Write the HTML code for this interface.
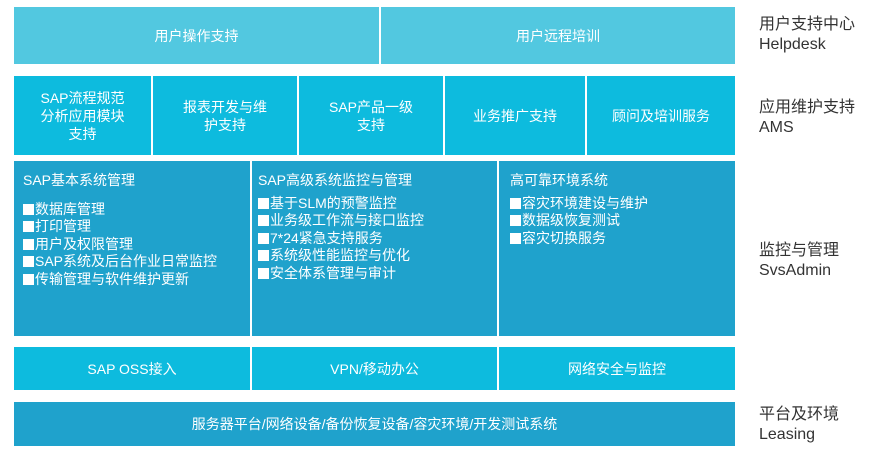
<!DOCTYPE html>
<html><head><meta charset="utf-8"><style>
body{margin:0;width:893px;height:467px;background:#fff;position:relative;overflow:hidden;font-family:"Liberation Sans","Noto Sans CJK SC",sans-serif}
.b{position:absolute;color:#fff;display:flex;align-items:center;justify-content:center;text-align:center;font-size:14px;line-height:18px}
.l{background:#52c8e0}.m{background:#0dbbde}.d{background:#1fa2cc}
.t{position:absolute;left:23px;top:14px;color:#fff;font-size:14px;line-height:17.6px;text-align:left;white-space:nowrap}
.t p{margin:0 0 5px 0}
.t i{display:inline-block;width:11px;height:11px;background:#fff;margin-right:1px;vertical-align:-1px}
.lab{position:absolute;left:759px;color:#333;font-size:16px;line-height:20px}
</style></head><body>
<div class="b l" style="left:14px;top:7px;width:365px;height:57px">用户操作支持</div>
<div class="b l" style="left:381px;top:7px;width:354px;height:57px">用户远程培训</div>

<div class="b m" style="left:14px;top:76px;width:137px;height:79px">SAP流程规范<br>分析应用模块<br>支持</div>
<div class="b m" style="left:153px;top:76px;width:144px;height:79px">报表开发与维<br>护支持</div>
<div class="b m" style="left:299px;top:76px;width:144px;height:79px">SAP产品一级<br>支持</div>
<div class="b m" style="left:445px;top:76px;width:140px;height:79px">业务推广支持</div>
<div class="b m" style="left:587px;top:76px;width:148px;height:79px">顾问及培训服务</div>

<div class="b d" style="left:14px;top:161px;width:236px;height:175px"><div class="t" style="left:9px;top:11px"><p style="margin-bottom:11px">SAP基本系统管理</p><i></i>数据库管理<br><i></i>打印管理<br><i></i>用户及权限管理<br><i></i>SAP系统及后台作业日常监控<br><i></i>传输管理与软件维护更新</div></div>
<div class="b d" style="left:252px;top:161px;width:245px;height:175px"><div class="t" style="left:6px;top:11px"><p style="margin-bottom:5px">SAP高级系统监控与管理</p><i></i>基于SLM的预警监控<br><i></i>业务级工作流与接口监控<br><i></i>7*24紧急支持服务<br><i></i>系统级性能监控与优化<br><i></i>安全体系管理与审计</div></div>
<div class="b d" style="left:499px;top:161px;width:236px;height:175px"><div class="t" style="left:11px;top:11px"><p style="margin-bottom:5px">高可靠环境系统</p><i></i>容灾环境建设与维护<br><i></i>数据级恢复测试<br><i></i>容灾切换服务</div></div>

<div class="b m" style="left:14px;top:347px;width:236px;height:43px">SAP OSS接入</div>
<div class="b m" style="left:252px;top:347px;width:245px;height:43px">VPN/移动办公</div>
<div class="b m" style="left:499px;top:347px;width:236px;height:43px">网络安全与监控</div>

<div class="b d" style="left:14px;top:402px;width:721px;height:44px">服务器平台/网络设备/备份恢复设备/容灾环境/开发测试系统</div>

<div class="lab" style="top:15px">用户支持中心<br>Helpdesk</div>
<div class="lab" style="top:98px">应用维护支持<br>AMS</div>
<div class="lab" style="top:241px">监控与管理<br>SvsAdmin</div>
<div class="lab" style="top:405px">平台及环境<br>Leasing</div>
</body></html>
